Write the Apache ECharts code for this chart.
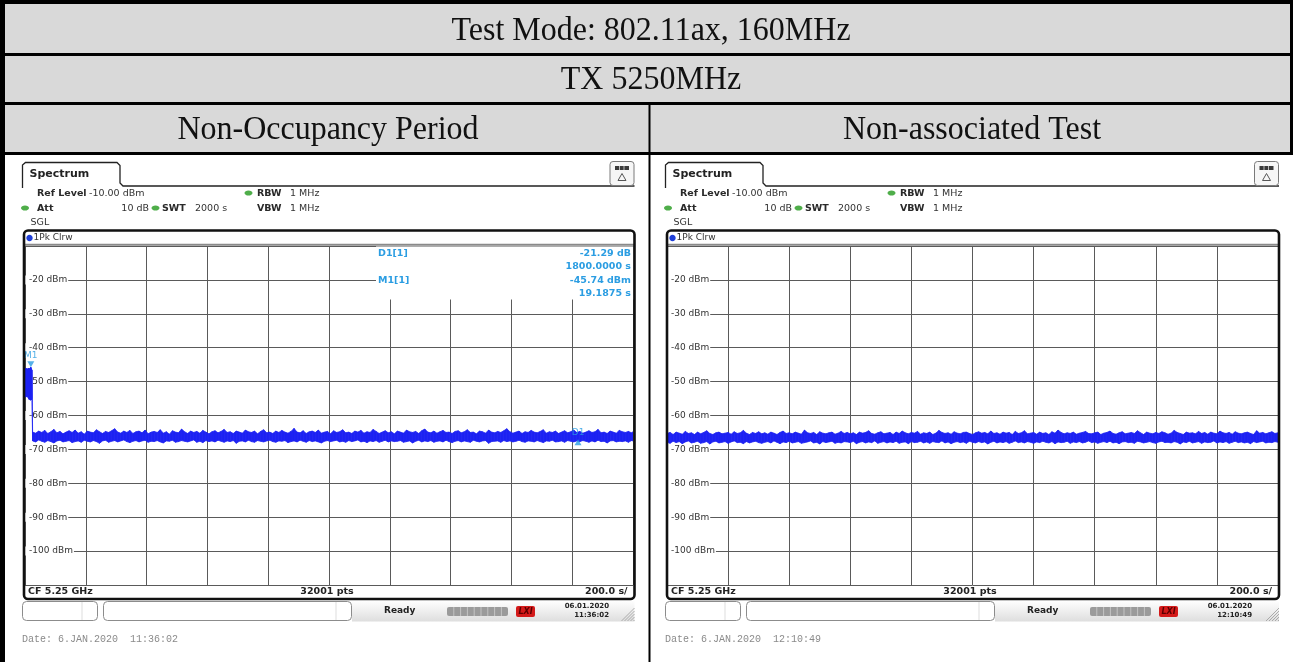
<!DOCTYPE html>
<html><head><meta charset="utf-8">
<script src="https://cdn.jsdelivr.net/npm/echarts/dist/echarts.min.js"></script>
<style>html,body{margin:0;padding:0;background:#fff;}#c{width:1293px;height:662px;}</style>
</head><body><div id="c"></div>
<script>
// ---------------- DATA ----------------
const titleRow1 = 'Test Mode: 802.11ax, 160MHz';
const titleRow2 = 'TX 5250MHz';
const columnTitles = ['Non-Occupancy Period', 'Non-associated Test'];
const timeAxis = { min: 0, max: 2000, step: 200 };          // seconds (200.0 s/div)
const levelAxis = { min: -110, max: -10, step: 10 };        // dBm (Ref Level -10 dBm)
const levelUnit = ' dBm';
const panelDates = ['Date: 6.JAN.2020  11:36:02', 'Date: 6.JAN.2020  12:10:49'];
const panelClock = [['06.01.2020', '11:36:02'], ['06.01.2020', '12:10:49']];

// marker readout (left panel)
const m1Time = 19.1875, m1Level = -45.74;
const d1DeltaTime = 1800.0, d1DeltaLevel = -21.29;

// left trace: burst at the start (time, peak envelope, lower envelope)
const leftBurstTime = [0, 2, 4, 6, 8, 10, 12, 14, 16, 18, 19.1875, 21, 23];
const leftBurstMax  = [-46.3, -46.0, -46.4, -46.1, -46.5, -46.2, -46.0, -46.3, -46.1, -45.9, -45.74, -46.2, -46.6];
const leftBurstMin  = [-54.3, -54.6, -54.1, -54.5, -54.2, -54.7, -55.0, -55.3, -55.1, -55.5, -55.2, -55.4, -55.0];

// left trace: noise floor envelope, every 10 s from 25 s
const noiseStep = 10;
const leftNoiseStart = 25;
const leftNoiseMax = [
-64.9,-65.2,-64.6,-65.0,-64.4,-65.3,-64.8,-64.1,-65.1,-64.7,-65.4,-64.9,-64.5,-65.0,-64.3,-65.2,-64.8,-65.5,-64.6,-64.9,
-65.1,-64.2,-64.8,-65.3,-64.7,-65.0,-64.5,-63.9,-64.9,-65.2,-64.6,-65.0,-64.4,-65.3,-64.8,-64.6,-65.1,-64.3,-65.4,-64.9,
-64.7,-65.0,-64.2,-65.2,-64.8,-65.5,-64.5,-64.9,-65.1,-64.0,-64.8,-65.3,-64.6,-65.0,-64.7,-65.2,-64.4,-64.9,-65.4,-64.8,
-64.5,-65.1,-64.7,-64.1,-65.0,-64.8,-65.3,-64.6,-64.9,-65.2,-64.3,-64.8,-65.0,-64.6,-65.4,-64.7,-64.2,-65.1,-64.9,-65.3,
-64.6,-65.0,-64.4,-64.9,-65.2,-64.7,-63.8,-64.9,-65.1,-64.5,-65.3,-64.8,-64.6,-65.0,-64.3,-65.2,-64.9,-64.7,-65.4,-64.5,
-65.0,-64.8,-64.2,-65.1,-64.9,-65.3,-64.6,-64.9,-64.4,-65.2,-64.8,-65.0,-64.1,-64.7,-65.3,-64.9,-64.5,-65.1,-64.8,-65.4,
-64.6,-64.9,-65.2,-64.3,-64.8,-65.0,-64.7,-65.3,-64.5,-64.0,-64.9,-65.1,-64.6,-65.2,-64.8,-64.4,-65.0,-64.9,-65.3,-64.7,
-64.5,-65.1,-64.8,-64.2,-65.0,-64.9,-65.4,-64.6,-64.8,-65.2,-64.3,-64.9,-65.1,-64.7,-65.0,-64.5,-63.9,-64.8,-65.2,-64.9,
-64.6,-65.3,-64.8,-65.0,-64.4,-64.9,-65.1,-64.7,-64.2,-65.2,-64.8,-65.0,-64.6,-65.3,-64.9,-64.5,-65.1,-64.8,-64.3,-65.0,
-64.7,-65.2,-64.9,-64.5,-65.0,-64.8,-64.1,-65.1,-64.9,-65.3,-64.6,-64.9,-65.2,-64.4,-64.8,-65.0,-64.7,-65.1,-64.5,-64.9
];
const leftNoiseMin = [
-67.5,-67.8,-67.2,-67.6,-67.9,-67.4,-67.7,-68.1,-67.5,-67.3,-67.8,-67.6,-67.4,-68.0,-67.7,-67.5,-67.9,-67.3,-67.6,-67.8,
-67.4,-67.7,-68.2,-67.5,-67.3,-67.9,-67.6,-67.4,-67.8,-67.5,-67.2,-67.7,-68.0,-67.6,-67.4,-67.8,-67.5,-67.3,-67.9,-67.6,
-67.7,-67.4,-67.8,-68.1,-67.5,-67.6,-67.3,-67.9,-67.7,-67.4,-67.6,-67.8,-67.5,-67.2,-67.9,-67.6,-68.0,-67.4,-67.7,-67.5,
-67.8,-67.3,-67.6,-67.9,-67.5,-67.7,-67.4,-68.2,-67.6,-67.5,-67.8,-67.3,-67.7,-67.9,-67.4,-67.6,-67.8,-67.5,-67.3,-67.7,
-67.9,-67.5,-67.6,-67.4,-68.0,-67.7,-67.5,-67.8,-67.3,-67.6,-67.9,-67.4,-67.7,-67.5,-67.8,-68.1,-67.6,-67.4,-67.7,-67.5,
-67.3,-67.8,-67.6,-67.9,-67.4,-67.7,-67.5,-67.2,-67.8,-67.6,-68.0,-67.5,-67.7,-67.4,-67.9,-67.6,-67.3,-67.8,-67.5,-67.7,
-67.6,-67.4,-67.9,-67.7,-67.5,-68.1,-67.6,-67.3,-67.8,-67.5,-67.7,-67.4,-67.9,-67.6,-67.5,-67.8,-67.3,-67.7,-68.0,-67.6,
-67.4,-67.8,-67.5,-67.7,-67.9,-67.3,-67.6,-67.8,-67.5,-67.4,-68.2,-67.7,-67.6,-67.5,-67.9,-67.4,-67.7,-67.5,-67.8,-67.6,
-67.3,-67.7,-67.9,-67.5,-67.6,-67.8,-67.4,-67.7,-68.0,-67.5,-67.6,-67.3,-67.8,-67.7,-67.5,-67.9,-67.4,-67.6,-67.8,-67.5,
-67.7,-67.4,-67.6,-67.9,-67.5,-67.8,-67.3,-67.7,-67.6,-68.1,-67.5,-67.4,-67.8,-67.6,-67.7,-67.5,-67.9,-67.4,-67.6,-67.8
];

// right trace: noise floor envelope, every 10 s from 0 s
const rightNoiseStart = 0;
const rightNoiseMax = [
-65.3,-65.0,-65.6,-64.9,-65.2,-65.5,-64.7,-65.3,-65.1,-65.6,-64.9,-65.4,-65.0,-64.5,-65.3,-65.6,-65.1,-64.9,-65.4,-65.2,
-65.0,-65.5,-64.8,-65.3,-65.1,-64.4,-65.2,-65.6,-65.0,-65.3,-64.8,-65.4,-65.1,-65.5,-64.9,-65.2,-65.6,-65.0,-64.6,-65.3,
-65.1,-65.4,-64.9,-65.2,-65.5,-64.3,-65.1,-65.3,-65.0,-65.6,-64.8,-65.2,-65.4,-65.1,-64.9,-65.5,-65.2,-64.7,-65.3,-65.0,
-65.4,-65.1,-65.6,-64.9,-65.2,-65.0,-64.5,-65.3,-65.5,-65.1,-64.8,-65.4,-65.2,-65.0,-65.6,-64.9,-65.3,-64.6,-65.1,-65.4,
-65.0,-65.2,-64.7,-65.5,-65.1,-65.3,-64.9,-65.6,-65.2,-64.4,-65.0,-65.3,-65.1,-65.5,-64.8,-65.2,-65.4,-65.0,-64.9,-65.3,
-65.6,-65.1,-64.8,-65.2,-65.0,-65.4,-64.6,-65.3,-65.1,-65.5,-64.9,-65.2,-65.0,-65.6,-64.7,-65.3,-65.1,-64.5,-65.4,-65.2,
-65.0,-65.5,-64.9,-65.3,-65.1,-65.6,-64.8,-65.2,-64.3,-65.0,-65.4,-65.1,-65.3,-64.9,-65.5,-65.2,-65.0,-64.7,-65.3,-65.4,
-65.1,-64.9,-65.6,-65.2,-65.0,-64.6,-65.3,-65.5,-65.1,-64.8,-65.4,-65.2,-65.0,-65.3,-64.5,-65.1,-65.6,-64.9,-65.2,-65.4,
-65.0,-65.3,-64.8,-65.1,-65.5,-65.2,-64.4,-65.0,-65.3,-65.6,-64.9,-65.2,-65.1,-65.4,-64.7,-65.3,-65.0,-65.5,-64.9,-65.2,
-65.4,-64.6,-65.1,-65.3,-65.0,-65.5,-64.8,-65.2,-65.4,-65.1,-64.9,-65.3,-65.6,-64.5,-65.2,-65.0,-65.4,-65.1,-64.8,-65.3,
-65.1
];
const rightNoiseMin = [
-67.9,-68.2,-67.6,-68.0,-67.7,-68.3,-67.8,-67.5,-68.1,-67.9,-67.6,-68.2,-68.0,-67.7,-68.4,-67.8,-67.6,-68.1,-67.9,-67.7,
-68.2,-67.8,-67.5,-68.0,-67.9,-68.3,-67.7,-68.1,-67.8,-67.6,-68.0,-68.2,-67.9,-67.7,-68.1,-67.5,-67.9,-68.3,-67.8,-68.0,
-67.6,-68.1,-67.9,-67.7,-68.2,-68.0,-67.8,-67.5,-68.1,-67.9,-68.4,-67.7,-68.0,-67.8,-67.6,-68.2,-67.9,-68.1,-67.7,-67.8,
-68.0,-67.6,-68.3,-67.9,-67.7,-68.1,-67.8,-68.0,-67.5,-68.2,-67.9,-67.7,-68.1,-67.8,-68.0,-67.6,-68.2,-67.9,-67.8,-68.3,
-67.7,-68.0,-67.9,-67.6,-68.1,-67.8,-68.2,-67.7,-67.9,-68.0,-67.5,-68.1,-67.8,-68.3,-67.9,-67.7,-68.0,-67.8,-68.2,-67.6,
-67.9,-68.1,-67.7,-68.0,-67.8,-68.4,-67.9,-67.6,-68.1,-67.8,-68.0,-67.7,-68.2,-67.9,-67.5,-68.0,-67.8,-68.1,-67.7,-67.9,
-68.2,-67.8,-68.0,-67.6,-67.9,-68.1,-67.7,-68.3,-67.8,-68.0,-67.9,-67.6,-68.2,-67.8,-68.0,-67.7,-68.1,-67.9,-67.5,-68.0,
-67.8,-68.2,-67.9,-67.7,-68.0,-67.6,-68.1,-67.9,-68.3,-67.8,-67.7,-68.0,-67.9,-68.2,-67.6,-67.8,-68.1,-67.9,-67.7,-68.0,
-68.2,-67.8,-67.6,-68.0,-67.9,-68.1,-67.7,-67.9,-68.4,-67.8,-68.0,-67.6,-68.1,-67.9,-67.7,-68.2,-67.8,-68.0,-67.9,-67.5,
-68.1,-67.8,-68.0,-67.7,-68.2,-67.9,-67.6,-68.0,-67.8,-68.1,-67.9,-68.3,-67.7,-68.0,-67.8,-67.6,-68.1,-67.9,-68.0,-67.7,
-67.9
];

// ---------------- BUILD ----------------
const TRACE = '#1d22f2', MARK = '#2b9de2', GRIDC = '#5a5a5a';
const FS = '"DejaVu Sans", Verdana, sans-serif';

// segments [t0, max0, min0, t1, max1, min1] between consecutive envelope samples
function buildTrace(bt, bmax, bmin, start, nmax, nmin) {
  const T = bt.slice(), M = bmax.slice(), N = bmin.slice();
  for (let i = 0; i < nmax.length; i++) { T.push(start + i * noiseStep); M.push(nmax[i]); N.push(nmin[i]); }
  const seg = [];
  for (let i = 0; i < T.length - 1; i++) {
    if (T[i] >= timeAxis.max) break;
    seg.push([T[i], M[i], N[i], T[i + 1], M[i + 1], N[i + 1]]);
  }
  return seg;
}
const leftTrace = buildTrace(leftBurstTime, leftBurstMax, leftBurstMin, leftNoiseStart, leftNoiseMax, leftNoiseMin);
const rightTrace = buildTrace([], [], [], rightNoiseStart, rightNoiseMax, rightNoiseMin);

const panels = [
  { dx: 0, gl: 25, gr: 633, fr: 634.5 },
  { dx: 643, gl: 667, gr: 1278, fr: 1279 }
];
const gTop = 246, gBot = 585;

function txt(x, y, s, o) {
  o = o || {};
  return { type: 'text', x: x, y: y, z: o.z || 60, scaleY: o.sy || 1, silent: true,
    style: { text: s, x: 0, y: 0, font: o.font || ('9.5px ' + FS), fill: o.fill || '#2a2a2a',
      align: o.align || 'left', verticalAlign: 'middle' } };
}
function rect(x, y, w, h, st, z, r) {
  return { type: 'rect', z: z == null ? 50 : z, silent: true, shape: { x: x, y: y, width: w, height: h, r: r || 0 }, style: st };
}
function line(x1, y1, x2, y2, stroke, lw, z) {
  return { type: 'line', z: z == null ? 55 : z, silent: true, shape: { x1: x1, y1: y1, x2: x2, y2: y2 }, style: { stroke: stroke, lineWidth: lw || 1 } };
}
function dot(cx, cy, rx, ry, fill) {
  return { type: 'ellipse', z: 60, silent: true, shape: { cx: cx, cy: cy, rx: rx, ry: ry }, style: { fill: fill } };
}

const G = [];
// table
G.push(rect(0, 0, 1293, 155, { fill: '#d9d9d9' }, 1));
G.push(rect(0, 0, 1293, 4, { fill: '#000' }, 5));
G.push(rect(0, 53, 1293, 3, { fill: '#000' }, 5));
G.push(rect(0, 102, 1293, 3, { fill: '#000' }, 5));
G.push(rect(0, 152, 1293, 3, { fill: '#000' }, 5));
G.push(rect(0, 0, 5, 662, { fill: '#000' }, 5));
G.push(rect(1290, 0, 3, 155, { fill: '#000' }, 5));
G.push(rect(648.5, 104, 2, 558, { fill: '#000' }, 5));
const serif = '32px "Liberation Serif", "Times New Roman", serif';
G.push(txt(651, 31, titleRow1, { font: serif, align: 'center', sy: 1.04, fill: '#111' }));
G.push(txt(651, 80.5, titleRow2, { font: serif, align: 'center', sy: 1.04, fill: '#111' }));
G.push(txt(328, 130.5, columnTitles[0], { font: serif, align: 'center', sy: 1.04, fill: '#111' }));
G.push(txt(972, 130.5, columnTitles[1], { font: serif, align: 'center', sy: 1.04, fill: '#111' }));

const B = 'bold 9.5px ' + FS, N = '9.5px ' + FS;
panels.forEach(function (p, k) {
  const dx = p.dx, fr = p.fr;
  // tab
  G.push({ type: 'polyline', z: 55, silent: true,
    shape: { points: [[22.5 + dx, 188], [22.5 + dx, 165], [25.5 + dx, 162.5], [117 + dx, 162.5], [120 + dx, 165.5], [120 + dx, 183], [123 + dx, 186], [fr, 186]] },
    style: { stroke: '#222', lineWidth: 1.3, fill: null } });
  G.push(txt(29.5 + dx, 174.5, 'Spectrum', { font: 'bold 11px ' + FS, fill: '#222' }));
  // icon
  G.push(rect(fr - 24.5, 161.5, 24, 24, { fill: '#f6f6f6', stroke: '#7a7a7a', lineWidth: 1 }, 56, 3));
  G.push(rect(fr - 19.5, 166, 14, 4, { fill: '#3a3a3a' }, 57));
  G.push(line(fr - 15, 166, fr - 15, 170, '#bbb', 1, 58));
  G.push(line(fr - 10.5, 166, fr - 10.5, 170, '#bbb', 1, 58));
  G.push({ type: 'polygon', z: 57, silent: true, shape: { points: [[fr - 12.5, 173.5], [fr - 16.5, 180.5], [fr - 8.5, 180.5]] }, style: { fill: null, stroke: '#555', lineWidth: 1 } });
  // settings
  G.push(txt(37 + dx, 193.5, 'Ref Level', { font: B }));
  G.push(txt(89 + dx, 193.5, '-10.00 dBm', { font: N, fill: '#333' }));
  G.push(dot(25 + dx, 208, 4, 2.6, '#4fae4a'));
  G.push(txt(37 + dx, 208.5, 'Att', { font: B }));
  G.push(txt(149 + dx, 208.5, '10 dB', { font: N, fill: '#333', align: 'right' }));
  G.push(dot(155.5 + dx, 208, 4, 2.6, '#4fae4a'));
  G.push(txt(162 + dx, 208.5, 'SWT', { font: B }));
  G.push(txt(195 + dx, 208.5, '2000 s', { font: N, fill: '#333' }));
  G.push(dot(248.5 + dx, 193, 4, 2.6, '#4fae4a'));
  G.push(txt(257 + dx, 193.5, 'RBW', { font: B }));
  G.push(txt(290 + dx, 193.5, '1 MHz', { font: N, fill: '#333' }));
  G.push(txt(257 + dx, 208.5, 'VBW', { font: B }));
  G.push(txt(290 + dx, 208.5, '1 MHz', { font: N, fill: '#333' }));
  G.push(txt(30.5 + dx, 222.5, 'SGL', { font: N, fill: '#333' }));
  // frame
  G.push(rect(24 + dx, 230.5, fr - 24 - dx, 368.5, { fill: null, stroke: '#111', lineWidth: 2.6 }, 70, 4));
  G.push(line(24 + dx, 244.8, fr, 244.8, '#8a8a8a', 2, 54));
  G.push(dot(29.5 + dx, 238, 3.2, 3.2, '#1f3fd8'));
  G.push(txt(33.5 + dx, 238, '1Pk Clrw', { font: '9px ' + FS, fill: '#333' }));
  // bottom bar
  G.push(txt(28 + dx, 592, 'CF 5.25 GHz', { font: B, fill: '#222' }));
  G.push(txt(327 + dx, 592, '32001 pts', { font: B, fill: '#222', align: 'center' }));
  G.push(txt(fr - 7, 592, '200.0 s/', { font: B, fill: '#222', align: 'right' }));
  // status bar
  G.push(rect(352 + dx, 600.5, fr - 352 - dx, 21, { fill: { type: 'linear', x: 0, y: 0, x2: 0, y2: 1, colorStops: [{ offset: 0, color: '#ffffff' }, { offset: 1, color: '#dedede' }] } }, 50));
  G.push(rect(22.5 + dx, 601.5, 75, 19, { fill: '#fff', stroke: '#8c8c8c', lineWidth: 1 }, 52, 4));
  G.push(line(82 + dx, 602, 82 + dx, 620, '#dddddd', 1, 53));
  G.push(rect(103.5 + dx, 601.5, 248, 19, { fill: '#fff', stroke: '#8c8c8c', lineWidth: 1 }, 52, 4));
  G.push(line(336 + dx, 602, 336 + dx, 620, '#dddddd', 1, 53));
  G.push(txt(384 + dx, 611, 'Ready', { font: 'bold 9px ' + FS, fill: '#222' }));
  G.push(rect(447 + dx, 607, 61, 9, { fill: '#9b9b9b' }, 52, 2));
  for (let s = 1; s < 9; s++) G.push(line(447 + dx + s * 6.8, 607, 447 + dx + s * 6.8, 616, '#c4c4c4', 1, 53));
  G.push(rect(516 + dx, 606, 19, 11, { fill: '#d41a1a' }, 52, 2));
  G.push(txt(525.5 + dx, 611.5, 'LXI', { font: 'italic bold 8px ' + FS, fill: '#5a0000', align: 'center' }));
  G.push(txt(609 + dx, 606, panelClock[k][0], { font: 'bold 7px ' + FS, fill: '#222', align: 'right' }));
  G.push(txt(609 + dx, 615.5, panelClock[k][1], { font: 'bold 7px ' + FS, fill: '#222', align: 'right' }));
  for (let h = 0; h < 5; h++) G.push(line(fr - 13 + h * 3, 621, fr, 608 + h * 3, '#9a9a9a', 0.8, 53));
  G.push(txt(22 + dx, 639, panelDates[k], { font: '10px "Liberation Mono", monospace', fill: '#8a8a8a' }));
});

// marker readout box (left panel)
G.push(rect(376, 246.6, 257.5, 53, { fill: '#fff' }, 40));
const MB = 'bold 9.5px ' + FS;
const d1Time = m1Time + d1DeltaTime, d1Level = +(m1Level + d1DeltaLevel).toFixed(2);
G.push(txt(378, 253.5, 'D1[1]', { font: MB, fill: MARK }));
G.push(txt(631, 253.5, d1DeltaLevel.toFixed(2) + ' dB', { font: MB, fill: MARK, align: 'right' }));
G.push(txt(631, 267, d1DeltaTime.toFixed(4) + ' s', { font: MB, fill: MARK, align: 'right' }));
G.push(txt(378, 280.5, 'M1[1]', { font: MB, fill: MARK }));
G.push(txt(631, 280.5, m1Level.toFixed(2) + ' dBm', { font: MB, fill: MARK, align: 'right' }));
G.push(txt(631, 294, m1Time.toFixed(4) + ' s', { font: MB, fill: MARK, align: 'right' }));

// ---------------- CHART ----------------
const grids = panels.map(function (p) { return { left: p.gl, top: gTop, width: p.gr - p.gl, height: gBot - gTop, containLabel: false }; });
const xAxes = panels.map(function (p, i) {
  return { gridIndex: i, type: 'value', min: timeAxis.min, max: timeAxis.max, interval: timeAxis.step,
    axisLine: { show: false }, axisTick: { show: false }, axisLabel: { show: false },
    splitLine: { show: true, lineStyle: { color: GRIDC, width: 1 } } };
});
const yAxes = [];
panels.forEach(function (p, i) {
  yAxes.push({ gridIndex: i, type: 'value', min: levelAxis.min, max: levelAxis.max, interval: levelAxis.step,
    axisLine: { show: false }, axisTick: { show: false }, axisLabel: { show: false },
    splitLine: { show: true, lineStyle: { color: GRIDC, width: 1 } }, z: 0 });
  yAxes.push({ gridIndex: i, type: 'value', min: levelAxis.min, max: levelAxis.max, interval: levelAxis.step, position: 'left',
    axisLine: { show: false }, axisTick: { show: false }, splitLine: { show: false }, z: 6,
    axisLabel: { inside: true, margin: 0, color: '#333', fontSize: 9, fontFamily: 'DejaVu Sans',
      backgroundColor: '#fff', padding: [0, 1, 0, 4],
      formatter: function (v) { return (v === levelAxis.min || v === levelAxis.max) ? '' : v + levelUnit; } } });
});

function traceSeries(seg, gi) {
  return {
    type: 'custom', xAxisIndex: gi, yAxisIndex: gi * 2, data: seg, z: 7, silent: true, clip: true,
    encode: { x: [0, 3], y: [1, 2, 4, 5] },
    renderItem: function (params, api) {
      const a = api.coord([api.value(0), api.value(1)]);
      const b = api.coord([api.value(3), api.value(4)]);
      const c = api.coord([api.value(3), api.value(5)]);
      const d = api.coord([api.value(0), api.value(2)]);
      return { type: 'polygon', shape: { points: [a, b, c, d] }, style: { fill: TRACE, stroke: TRACE, lineWidth: 0.8 } };
    }
  };
}
const series = [traceSeries(leftTrace, 0), traceSeries(rightTrace, 1)];
series.push({
  type: 'scatter', xAxisIndex: 0, yAxisIndex: 0, z: 8, silent: true,
  data: [
    { value: [m1Time, m1Level], symbol: 'triangle', symbolRotate: 180, symbolSize: [7, 6], symbolOffset: [0, -3],
      label: { show: true, formatter: 'M1', position: 'top', distance: 1, color: MARK, fontSize: 9, fontFamily: 'DejaVu Sans' } },
    { value: [d1Time, d1Level], symbol: 'triangle', symbolSize: [7, 6], symbolOffset: [0, 3],
      label: { show: true, formatter: 'D1', position: 'top', distance: 2, color: MARK, fontSize: 9, fontFamily: 'DejaVu Sans' } }
  ],
  itemStyle: { color: MARK }
});

const chart = echarts.init(document.getElementById('c'), null, { renderer: 'canvas' });
chart.setOption({
  animation: false,
  backgroundColor: '#ffffff',
  grid: grids, xAxis: xAxes, yAxis: yAxes, series: series,
  graphic: { elements: G }
});
</script></body></html>
